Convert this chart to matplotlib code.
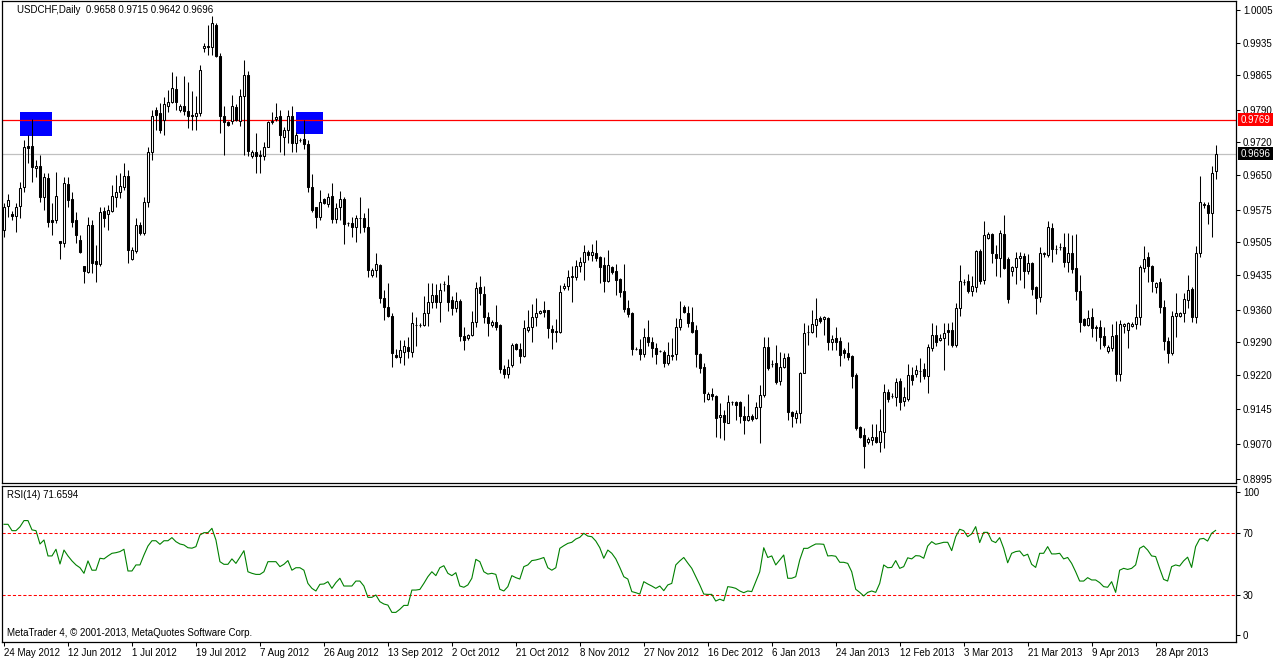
import matplotlib
matplotlib.use("Agg")
import matplotlib.pyplot as plt
import matplotlib.transforms as mtransforms
from matplotlib.patches import Rectangle

# ---------------- data ----------------
symbol_title = "USDCHF,Daily  0.9658 0.9715 0.9642 0.9696"
rsi_title = "RSI(14) 71.6594"
copyright_text = "MetaTrader 4, \u00a9 2001-2013, MetaQuotes Software Corp."

opens = [
0.9531,0.9583,0.9566,0.9561,0.9583,0.9624,0.9712,0.9712,0.9665,0.9669,
0.9602,0.9643,0.9553,0.9553,0.9507,0.9503,0.9630,0.9598,0.9553,0.9510,
0.9454,0.9441,0.9542,0.9464,0.9458,0.9572,0.9566,0.9572,0.9602,0.9613,
0.9624,0.9647,0.9469,0.9486,0.9542,0.9525,0.9592,0.9699,0.9790,0.9783,
0.9768,0.9798,0.9806,0.9834,0.9790,0.9798,0.9788,0.9779,0.9776,0.9783,
0.9923,0.9927,0.9925,0.9973,0.9906,0.9776,0.9763,0.9765,0.9796,0.9765,
0.9819,0.9865,0.9690,0.9700,0.9692,0.9690,0.9711,0.9763,0.9770,0.9776,
0.9732,0.9747,0.9776,0.9718,0.9725,0.9728,0.9717,0.9624,0.9581,0.9559,
0.9598,0.9587,0.9604,0.9555,0.9581,0.9598,0.9546,0.9546,0.9538,0.9557,
0.9557,0.9538,0.9434,0.9445,0.9456,0.9385,0.9366,0.9346,0.9262,0.9258,
0.9268,0.9279,0.9268,0.9327,0.9326,0.9326,0.9352,0.9376,0.9391,0.9376,
0.9415,0.9413,0.9380,0.9363,0.9378,0.9303,0.9298,0.9305,0.9333,0.9408,
0.9393,0.9344,0.9326,0.9333,0.9326,0.9232,0.9221,0.9240,0.9286,0.9275,
0.9260,0.9316,0.9322,0.9344,0.9352,0.9359,0.9359,0.9318,0.9311,0.9311,
0.9406,0.9411,0.9430,0.9430,0.9453,0.9462,0.9484,0.9477,0.9482,0.9473,
0.9455,0.9421,0.9451,0.9443,0.9426,0.9400,0.9363,0.9352,0.9275,0.9276,
0.9264,0.9301,0.9290,0.9277,0.9270,0.9268,0.9245,0.9260,0.9264,0.9322,
0.9365,0.9352,0.9333,0.9316,0.9264,0.9236,0.9167,0.9178,0.9174,0.9129,
0.9133,0.9116,0.9161,0.9161,0.9161,0.9131,0.9122,0.9131,0.9126,0.9150,
0.9176,0.9279,0.9243,0.9245,0.9206,0.9236,0.9258,0.9139,0.9126,0.9137,
0.9223,0.9311,0.9311,0.9326,0.9342,0.9339,0.9342,0.9290,0.9299,0.9292,
0.9273,0.9266,0.9260,0.9220,0.9107,0.9090,0.9075,0.9079,0.9086,0.9075,
0.9096,0.9183,0.9174,0.9172,0.9206,0.9163,0.9167,0.9219,0.9221,0.9228,
0.9232,0.9217,0.9277,0.9305,0.9294,0.9298,0.9316,0.9316,0.9283,0.9364,
0.9419,0.9421,0.9400,0.9409,0.9486,0.9423,0.9514,0.9523,0.9480,0.9471,
0.9523,0.9469,0.9443,0.9451,0.9471,0.9475,0.9443,0.9460,0.9408,0.9387,
0.9480,0.9477,0.9536,0.9490,0.9495,0.9495,0.9462,0.9482,0.9449,0.9400,
0.9339,0.9326,0.9344,0.9322,0.9322,0.9303,0.9271,0.9277,0.9305,0.9221,
0.9324,0.9316,0.9324,0.9329,0.9344,0.9449,0.9473,0.9453,0.9408,0.9419,
0.9365,0.9292,0.9266,0.9346,0.9346,0.9352,0.9380,0.9404,0.9344,0.9482,
0.9586,0.9586,0.9568,0.9658]

highs = [
0.9590,0.9609,0.9572,0.9590,0.9635,0.9725,0.9736,0.9770,0.9682,0.9693,
0.9654,0.9654,0.9590,0.9656,0.9507,0.9645,0.9645,0.9613,0.9570,0.9520,
0.9454,0.9559,0.9553,0.9499,0.9581,0.9581,0.9585,0.9628,0.9650,0.9654,
0.9676,0.9660,0.9494,0.9557,0.9548,0.9602,0.9710,0.9790,0.9796,0.9804,
0.9817,0.9833,0.9872,0.9862,0.9802,0.9862,0.9851,0.9830,0.9819,0.9887,
0.9934,0.9973,0.9992,0.9977,0.9912,0.9798,0.9765,0.9823,0.9802,0.9834,
0.9897,0.9873,0.9704,0.9741,0.9704,0.9720,0.9765,0.9786,0.9804,0.9790,
0.9753,0.9790,0.9798,0.9742,0.9730,0.9768,0.9725,0.9652,0.9581,0.9617,
0.9600,0.9611,0.9632,0.9590,0.9615,0.9602,0.9548,0.9559,0.9563,0.9602,
0.9568,0.9579,0.9449,0.9482,0.9458,0.9402,0.9417,0.9352,0.9275,0.9294,
0.9294,0.9301,0.9354,0.9343,0.9330,0.9389,0.9417,0.9417,0.9415,0.9417,
0.9421,0.9434,0.9389,0.9398,0.9382,0.9322,0.9307,0.9357,0.9419,0.9432,
0.9410,0.9355,0.9337,0.9370,0.9329,0.9240,0.9253,0.9288,0.9288,0.9288,
0.9337,0.9359,0.9372,0.9385,0.9359,0.9378,0.9359,0.9326,0.9339,0.9413,
0.9417,0.9445,0.9454,0.9467,0.9473,0.9499,0.9488,0.9501,0.9510,0.9475,
0.9473,0.9488,0.9453,0.9458,0.9428,0.9458,0.9380,0.9355,0.9279,0.9296,
0.9320,0.9337,0.9301,0.9288,0.9273,0.9273,0.9290,0.9299,0.9342,0.9378,
0.9370,0.9367,0.9365,0.9326,0.9266,0.9245,0.9182,0.9191,0.9176,0.9159,
0.9144,0.9176,0.9163,0.9163,0.9163,0.9153,0.9178,0.9135,0.9161,0.9198,
0.9301,0.9301,0.9251,0.9284,0.9268,0.9266,0.9266,0.9141,0.9144,0.9225,
0.9331,0.9326,0.9359,0.9385,0.9346,0.9346,0.9344,0.9305,0.9322,0.9301,
0.9277,0.9290,0.9262,0.9223,0.9109,0.9105,0.9085,0.9114,0.9114,0.9146,
0.9199,0.9189,0.9180,0.9213,0.9213,0.9193,0.9243,0.9236,0.9240,0.9256,
0.9245,0.9286,0.9331,0.9326,0.9307,0.9331,0.9331,0.9333,0.9374,0.9456,
0.9426,0.9437,0.9432,0.9488,0.9490,0.9550,0.9527,0.9525,0.9499,0.9531,
0.9563,0.9473,0.9454,0.9484,0.9484,0.9482,0.9480,0.9462,0.9411,0.9495,
0.9484,0.9550,0.9546,0.9499,0.9503,0.9525,0.9525,0.9520,0.9523,0.9434,
0.9342,0.9359,0.9363,0.9326,0.9337,0.9322,0.9284,0.9329,0.9335,0.9337,
0.9331,0.9333,0.9333,0.9372,0.9456,0.9497,0.9484,0.9456,0.9419,0.9428,
0.9380,0.9301,0.9357,0.9396,0.9355,0.9396,0.9434,0.9408,0.9497,0.9648,
0.9592,0.9592,0.9670,0.9715]

lows = [
0.9516,0.9559,0.9553,0.9527,0.9557,0.9613,0.9676,0.9635,0.9645,0.9592,
0.9574,0.9538,0.9520,0.9546,0.9468,0.9494,0.9581,0.9538,0.9503,0.9482,
0.9417,0.9438,0.9438,0.9419,0.9454,0.9538,0.9531,0.9570,0.9581,0.9600,
0.9617,0.9460,0.9467,0.9482,0.9520,0.9520,0.9581,0.9682,0.9747,0.9741,
0.9736,0.9785,0.9804,0.9790,0.9785,0.9779,0.9751,0.9747,0.9747,0.9776,
0.9915,0.9908,0.9908,0.9904,0.9741,0.9693,0.9755,0.9759,0.9765,0.9755,
0.9693,0.9690,0.9687,0.9654,0.9654,0.9682,0.9709,0.9759,0.9766,0.9699,
0.9693,0.9718,0.9699,0.9699,0.9721,0.9705,0.9613,0.9570,0.9536,0.9553,
0.9587,0.9581,0.9546,0.9546,0.9553,0.9501,0.9540,0.9516,0.9505,0.9525,
0.9527,0.9430,0.9430,0.9430,0.9374,0.9337,0.9344,0.9236,0.9256,0.9245,
0.9240,0.9256,0.9258,0.9281,0.9322,0.9324,0.9324,0.9363,0.9363,0.9333,
0.9400,0.9357,0.9348,0.9355,0.9292,0.9272,0.9294,0.9303,0.9322,0.9370,
0.9331,0.9303,0.9322,0.9316,0.9223,0.9213,0.9213,0.9236,0.9273,0.9245,
0.9258,0.9311,0.9290,0.9324,0.9350,0.9344,0.9299,0.9275,0.9290,0.9309,
0.9402,0.9402,0.9376,0.9424,0.9441,0.9424,0.9467,0.9464,0.9464,0.9417,
0.9398,0.9419,0.9436,0.9391,0.9387,0.9355,0.9344,0.9262,0.9273,0.9251,
0.9258,0.9281,0.9258,0.9243,0.9268,0.9236,0.9240,0.9251,0.9251,0.9316,
0.9352,0.9322,0.9309,0.9236,0.9223,0.9161,0.9165,0.9165,0.9086,0.9083,
0.9079,0.9116,0.9155,0.9122,0.9116,0.9092,0.9120,0.9120,0.9124,0.9073,
0.9172,0.9230,0.9236,0.9200,0.9198,0.9234,0.9122,0.9107,0.9116,0.9116,
0.9223,0.9283,0.9309,0.9301,0.9331,0.9305,0.9273,0.9273,0.9273,0.9238,
0.9256,0.9251,0.9191,0.9101,0.9083,0.9019,0.9070,0.9068,0.9073,0.9053,
0.9062,0.9161,0.9169,0.9152,0.9144,0.9152,0.9163,0.9198,0.9215,0.9204,
0.9210,0.9180,0.9270,0.9281,0.9292,0.9229,0.9283,0.9279,0.9279,0.9346,
0.9413,0.9396,0.9389,0.9398,0.9415,0.9415,0.9512,0.9460,0.9432,0.9430,
0.9447,0.9374,0.9432,0.9415,0.9423,0.9406,0.9436,0.9391,0.9350,0.9376,
0.9473,0.9473,0.9462,0.9480,0.9488,0.9451,0.9441,0.9438,0.9380,0.9311,
0.9324,0.9324,0.9301,0.9292,0.9275,0.9279,0.9266,0.9271,0.9206,0.9206,
0.9309,0.9277,0.9322,0.9318,0.9326,0.9441,0.9419,0.9398,0.9396,0.9352,
0.9273,0.9245,0.9262,0.9301,0.9344,0.9333,0.9363,0.9333,0.9331,0.9473,
0.9579,0.9544,0.9516,0.9642]

closes = [
0.9581,0.9596,0.9561,0.9581,0.9622,0.9710,0.9708,0.9667,0.9669,0.9602,
0.9645,0.9548,0.9548,0.9604,0.9503,0.9632,0.9596,0.9548,0.9520,0.9484,
0.9443,0.9542,0.9460,0.9458,0.9570,0.9557,0.9574,0.9604,0.9613,0.9626,
0.9647,0.9488,0.9488,0.9542,0.9525,0.9592,0.9699,0.9776,0.9779,0.9747,
0.9802,0.9806,0.9837,0.9806,0.9798,0.9788,0.9776,0.9776,0.9783,0.9876,
0.9927,0.9925,0.9977,0.9906,0.9776,0.9763,0.9757,0.9798,0.9768,0.9819,
0.9865,0.9702,0.9700,0.9690,0.9690,0.9709,0.9763,0.9766,0.9774,0.9736,
0.9747,0.9777,0.9718,0.9736,0.9726,0.9717,0.9624,0.9574,0.9559,0.9592,
0.9590,0.9602,0.9555,0.9579,0.9598,0.9544,0.9546,0.9538,0.9557,0.9557,
0.9538,0.9445,0.9445,0.9458,0.9385,0.9366,0.9346,0.9266,0.9258,0.9272,
0.9281,0.9271,0.9330,0.9326,0.9327,0.9352,0.9376,0.9391,0.9376,0.9402,
0.9415,0.9376,0.9363,0.9378,0.9303,0.9294,0.9305,0.9333,0.9406,0.9395,
0.9344,0.9331,0.9333,0.9322,0.9232,0.9221,0.9236,0.9283,0.9275,0.9260,
0.9320,0.9322,0.9344,0.9352,0.9357,0.9355,0.9320,0.9311,0.9314,0.9398,
0.9411,0.9430,0.9432,0.9453,0.9462,0.9484,0.9477,0.9484,0.9471,0.9451,
0.9421,0.9455,0.9441,0.9424,0.9398,0.9361,0.9350,0.9274,0.9276,0.9264,
0.9301,0.9290,0.9277,0.9264,0.9271,0.9245,0.9262,0.9262,0.9322,0.9339,
0.9354,0.9331,0.9311,0.9264,0.9234,0.9180,0.9178,0.9174,0.9126,0.9133,
0.9118,0.9161,0.9161,0.9155,0.9131,0.9122,0.9131,0.9124,0.9150,0.9176,
0.9279,0.9234,0.9243,0.9204,0.9236,0.9256,0.9139,0.9131,0.9137,0.9223,
0.9309,0.9312,0.9329,0.9339,0.9335,0.9344,0.9290,0.9296,0.9290,0.9262,
0.9266,0.9258,0.9217,0.9105,0.9086,0.9066,0.9081,0.9086,0.9075,0.9098,
0.9183,0.9167,0.9174,0.9204,0.9161,0.9172,0.9219,0.9208,0.9230,0.9228,
0.9217,0.9279,0.9305,0.9290,0.9298,0.9309,0.9311,0.9283,0.9364,0.9422,
0.9419,0.9400,0.9411,0.9486,0.9421,0.9520,0.9523,0.9482,0.9471,0.9525,
0.9449,0.9383,0.9451,0.9471,0.9475,0.9443,0.9460,0.9404,0.9385,0.9482,
0.9481,0.9538,0.9490,0.9490,0.9494,0.9462,0.9482,0.9447,0.9399,0.9333,
0.9326,0.9342,0.9320,0.9320,0.9301,0.9283,0.9279,0.9303,0.9221,0.9329,
0.9329,0.9331,0.9329,0.9344,0.9451,0.9469,0.9453,0.9421,0.9417,0.9365,
0.9292,0.9266,0.9346,0.9352,0.9352,0.9383,0.9402,0.9344,0.9482,0.9591,
0.9587,0.9568,0.9655,0.9696]

rsi = [
75.6,75.6,71.5,71.5,74.0,78.0,78.0,72.0,71.5,62.9,
65.5,55.2,55.2,59.5,50.0,59.0,55.2,52.0,49.4,47.6,
44.0,52.0,46.0,46.0,53.7,53.3,55.2,56.9,57.3,58.0,
59.5,45.5,45.5,49.4,49.4,55.8,61.6,65.0,65.0,62.7,
65.0,65.0,67.0,64.4,62.9,62.3,60.5,60.2,61.2,68.7,
70.2,70.2,73.0,65.5,51.5,49.8,49.8,53.3,50.4,54.4,
58.6,45.0,44.0,43.3,43.3,45.0,51.5,51.5,51.5,48.3,
49.8,52.2,46.0,47.6,47.6,46.0,37.5,34.3,32.6,36.9,
37.1,38.6,34.3,38.0,40.8,35.8,35.8,35.8,39.0,39.0,
35.8,28.5,28.5,30.0,25.7,24.2,23.5,18.8,18.8,20.8,
23.3,23.3,33.2,33.2,33.6,37.5,41.8,45.0,42.5,47.6,
48.9,44.0,42.5,44.4,35.8,35.0,36.5,40.8,53.0,51.5,
45.0,43.5,44.0,43.3,33.7,32.6,35.4,42.5,41.2,40.3,
48.3,49.4,52.2,52.6,53.3,54.2,47.6,46.0,47.6,60.1,
61.8,63.3,64.0,66.1,67.2,69.8,68.0,67.6,64.8,60.5,
53.7,59.0,56.9,53.3,47.8,41.8,40.3,32.2,31.5,30.6,
38.6,37.1,35.8,34.3,35.8,32.8,36.5,37.5,49.4,52.0,
54.2,50.6,47.2,41.8,36.5,30.6,30.4,30.4,26.1,27.3,
26.3,35.4,35.0,34.3,32.6,31.5,32.6,32.2,38.6,45.0,
60.5,54.2,55.2,49.4,52.6,55.8,40.8,40.8,41.8,52.6,
60.1,60.1,61.6,62.9,62.9,62.7,55.2,55.4,55.0,51.1,
51.1,50.4,45.0,33.7,31.7,29.4,31.7,32.6,31.7,37.5,
49.4,47.6,47.8,52.2,47.2,48.3,54.0,53.3,55.4,55.2,
53.7,61.6,64.4,62.7,63.3,64.0,64.0,58.6,67.6,72.4,
71.5,67.6,69.4,74.1,63.8,70.4,70.4,65.0,63.8,67.0,
60.1,50.8,56.9,58.0,58.4,55.2,56.3,49.8,47.8,56.9,
56.9,61.2,56.5,56.5,56.9,53.3,54.2,50.4,45.0,39.0,
39.0,41.2,39.7,39.7,38.0,35.4,35.0,38.6,31.7,46.0,
47.2,46.5,47.2,49.4,60.1,61.6,59.0,55.2,54.8,47.2,
40.1,39.0,48.3,49.4,48.7,52.0,54.4,47.8,61.2,66.1,
66.5,64.8,69.8,71.66]

date_labels = ["24 May 2012", "12 Jun 2012", "1 Jul 2012", "19 Jul 2012",
               "7 Aug 2012", "26 Aug 2012", "13 Sep 2012", "2 Oct 2012",
               "21 Oct 2012", "8 Nov 2012", "27 Nov 2012", "16 Dec 2012",
               "6 Jan 2013", "24 Jan 2013", "12 Feb 2013", "3 Mar 2013",
               "21 Mar 2013", "9 Apr 2013", "28 Apr 2013"]
bars_per_label = 16

price_ticks = [1.0005, 0.9935, 0.9865, 0.9790, 0.9720, 0.9650, 0.9575,
               0.9505, 0.9435, 0.9360, 0.9290, 0.9220, 0.9145, 0.9070, 0.8995]

level_line = 0.9769         # red horizontal line
last_price = 0.9696         # grey current-price line

# two blue rectangle objects (bar index span, price span)
box_left = [3.9, 72.9]
box_right = [11.9, 79.9]
box_top = [0.9785, 0.9785]
box_bottom = [0.9734, 0.9738]

rsi_levels = [70, 30]

# ---------------- figure / layout ----------------
W, H = 1276, 660
fig = plt.figure(figsize=(W / 100, H / 100), dpi=100)
fig.patch.set_facecolor("white")
FONT = "Liberation Sans"
FS = 7

def px_rect(x0, y0, x1, y1):
    return [x0 / W, 1 - y1 / H, (x1 - x0) / W, (y1 - y0) / H]

ax = fig.add_axes(px_rect(2, 1, 1236, 483))
axr = fig.add_axes(px_rect(2, 486, 1236, 642), sharex=ax)

n = len(closes)
xs = list(range(n))

# ---- candles ----
wick_lw = 0.75
for i in xs:
    o, h, l, c = opens[i], highs[i], lows[i], closes[i]
    ax.vlines(i, l, h, color="black", lw=wick_lw, zorder=3)
    bottom = min(o, c)
    height = max(abs(c - o), 1e-6)
    face = "white" if c >= o else "black"
    ax.bar(i, height, bottom=bottom, width=0.5, color=face,
           edgecolor="black", linewidth=wick_lw, zorder=4)

# ---- objects ----
for bl, br, bt, bb in zip(box_left, box_right, box_top, box_bottom):
    ax.add_patch(Rectangle((bl, bb), br - bl, bt - bb, facecolor="#0000ff",
                           edgecolor="none", zorder=1))
ax.axhline(last_price, color="#c0c0c0", lw=0.9, zorder=1.5)
ax.axhline(level_line, color="red", lw=0.9, zorder=2)

ax.set_xlim(-0.5, 308.1)
ax.set_ylim(0.89865, 1.00244)
ax.yaxis.tick_right()
ax.set_yticks(price_ticks)
ax.set_yticklabels(["%.4f" % v for v in price_ticks], fontsize=FS, family=FONT)
ax.tick_params(axis="y", direction="out", length=3, width=0.75, pad=2)
ax.tick_params(axis="x", bottom=False, labelbottom=False)
for s in ax.spines.values():
    s.set_linewidth(0.9)
    s.set_color("black")

ax.text(15 / 1234, 1 - 9 / 482, symbol_title, transform=ax.transAxes,
        fontsize=FS, family=FONT, va="center", ha="left")

# ---- RSI panel ----
axr.plot(xs, rsi, color="#008000", lw=0.8, zorder=3)
for lv in rsi_levels:
    axr.axhline(lv, color="red", lw=0.75, linestyle=(0, (3, 2)), zorder=2)
axr.set_ylim(-0.3, 100.3)
axr.yaxis.tick_right()
rsi_tick_pos = [96.5, 70, 30, 4.2]
axr.set_yticks(rsi_tick_pos)
axr.set_yticklabels(["100", "70", "30", "0"], fontsize=FS, family=FONT)
axr.tick_params(axis="y", direction="out", length=3, width=0.75, pad=2)
tick_pos = [k * bars_per_label for k in range(len(date_labels))]
axr.set_xticks(tick_pos)
axr.set_xticklabels(date_labels, fontsize=FS, family=FONT, ha="left")
axr.tick_params(axis="x", direction="out", length=3, width=0.75, pad=1)
for s in axr.spines.values():
    s.set_linewidth(0.9)
    s.set_color("black")
axr.text(5 / 1234, 1 - 9 / 156, rsi_title, transform=axr.transAxes,
         fontsize=FS, family=FONT, va="center", ha="left")
axr.text(5 / 1234, 9 / 156, copyright_text, transform=axr.transAxes,
         fontsize=FS, family=FONT, va="center", ha="left")

# ---- price tags on the right axis ----
fig.canvas.draw()
def price_tag(price, bg):
    ydisp = ax.transData.transform((0, price))[1]
    yfig = ydisp / H
    fig.add_artist(Rectangle((1238 / W, yfig - 6.5 / H), 35 / W, 13 / H,
                             transform=fig.transFigure, facecolor=bg,
                             edgecolor="none", zorder=10))
    fig.text(1241 / W, yfig, "%.4f" % price, color="white", fontsize=FS,
             family=FONT, va="center", ha="left", zorder=11)

price_tag(level_line, "red")
price_tag(last_price, "black")

fig.savefig("out.png", dpi=100, facecolor="white")
